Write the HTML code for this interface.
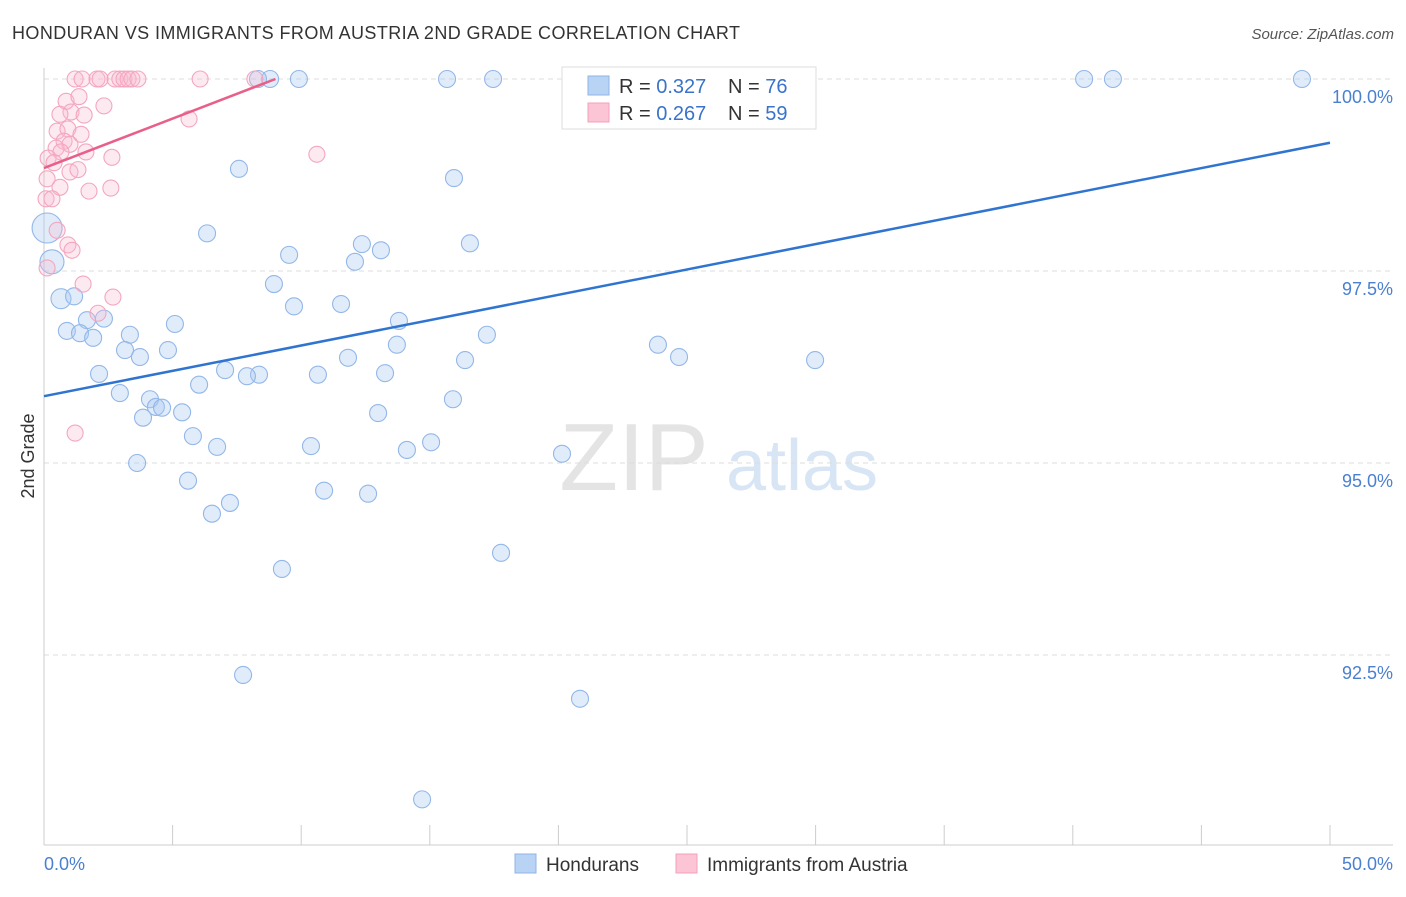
<!DOCTYPE html>
<html><head><meta charset="utf-8"><style>
body{margin:0;background:#fff;font-family:"Liberation Sans",sans-serif;}
svg text{font-family:"Liberation Sans",sans-serif;}
</style></head><body>
<svg id="chart" width="1406" height="892" xmlns="http://www.w3.org/2000/svg">
<text x="12" y="39" font-size="18" fill="#333" textLength="728">HONDURAN VS IMMIGRANTS FROM AUSTRIA 2ND GRADE CORRELATION CHART</text>
<text x="1394" y="39" font-size="15" fill="#555" text-anchor="end" font-style="italic">Source: ZipAtlas.com</text>
<g>
<text x="634" y="490" font-size="96" fill="#e4e4e4" text-anchor="middle" font-family="Liberation Serif">ZIP</text>
<text x="802" y="490" font-size="72" fill="#d7e5f5" text-anchor="middle">atlas</text>
</g>
<g id="grid"></g>
<g id="axes"></g>
<g id="pts"></g>
<g id="lines"></g>
<text transform="translate(34,456) rotate(-90)" font-size="18" fill="#333" text-anchor="middle">2nd Grade</text>
<g>
<rect x="562" y="67" width="254" height="62" fill="#fff" stroke="#ddd"/>
<rect x="588" y="76" width="21" height="19" fill="#b9d3f5" stroke="#8fb4e8"/>
<rect x="588" y="103" width="21" height="19" fill="#fcc5d5" stroke="#f3a0ba"/>
<text x="619" y="93" font-size="20" fill="#333">R = <tspan fill="#3a73c9">0.327</tspan></text>
<text x="728" y="93" font-size="20" fill="#333">N = <tspan fill="#3a73c9">76</tspan></text>
<text x="619" y="120" font-size="20" fill="#333">R = <tspan fill="#3a73c9">0.267</tspan></text>
<text x="728" y="120" font-size="20" fill="#333">N = <tspan fill="#3a73c9">59</tspan></text>
</g>
<g>
<rect x="515" y="854" width="21" height="19" fill="#b9d3f5" stroke="#8fb4e8"/>
<text x="546" y="871" font-size="19" fill="#333">Hondurans</text>
<rect x="676" y="854" width="21" height="19" fill="#fcc5d5" stroke="#f3a0ba"/>
<text x="707" y="871" font-size="19" fill="#333">Immigrants from Austria</text>
</g>
</svg>
<script>
const blueX=[8.79,9.91,15.67,17.46,40.44,41.56,48.91,25.0,28.42,8.32,7.58,15.94,6.34,0.12,0.31,9.53,12.36,16.56,13.10,12.09,8.94,0.66,1.17,9.72,11.55,1.67,2.33,5.09,13.80,0.89,1.40,1.91,3.34,17.22,3.15,4.82,13.72,23.87,3.73,24.69,29.98,11.82,16.37,2.14,7.04,8.36,7.89,10.65,13.26,6.03,2.95,4.12,15.90,4.35,4.59,5.37,3.85,12.99,5.79,15.05,6.73,10.38,14.11,20.14,3.62,5.60,10.89,12.60,7.23,6.53,17.77,9.25,7.74,20.84,14.70];
const blueY=[100,100,100,100,100,100,100,100,100,100,98.83,98.71,97.99,98.06,97.62,97.71,97.85,97.86,97.77,97.62,97.33,97.14,97.17,97.04,97.07,96.86,96.88,96.81,96.85,96.72,96.69,96.63,96.67,96.67,96.47,96.47,96.54,96.54,96.38,96.38,96.34,96.37,96.34,96.16,96.21,96.15,96.13,96.15,96.17,96.02,95.91,95.83,95.83,95.73,95.72,95.66,95.59,95.65,95.35,95.27,95.21,95.22,95.17,95.12,95.0,94.77,94.64,94.60,94.48,94.34,93.83,93.62,92.24,91.93,90.62];
const pinkX=[1.21,1.48,2.06,2.18,2.76,2.95,3.11,3.27,3.42,3.65,6.07,8.2,0.86,1.36,2.33,1.05,0.62,1.56,5.64,0.51,0.93,1.44,0.78,1.01,0.47,0.66,0.16,0.39,1.63,2.64,10.61,1.01,1.32,0.12,1.75,2.60,0.62,0.08,0.31,0.51,0.93,1.09,0.12,1.52,2.68,2.10,1.21];
const pinkY=[100,100,100,100,100,100,100,100,100,100,100,100,99.71,99.77,99.65,99.57,99.54,99.53,99.48,99.32,99.35,99.28,99.19,99.15,99.10,99.05,98.97,98.91,99.05,98.98,99.02,98.79,98.82,98.70,98.54,98.58,98.59,98.44,98.44,98.03,97.84,97.77,97.54,97.33,97.16,96.95,95.39];
const blueTrend=[[0,95.87],[50,99.17]];
const pinkTrend=[[0,98.84],[9,100]];
const yTicks=[100,97.5,95,92.5];
const yTickLabels=["100.0%","97.5%","95.0%","92.5%"];
const xTicks=[0,5,10,15,20,25,30,35,40,45,50];
const NS="http://www.w3.org/2000/svg";
const sx=v=>44+v*25.72;
const sy=v=>79+(100-v)*76.8;
function mk(tag,attrs,parent){const e=document.createElementNS(NS,tag);for(const k in attrs)e.setAttribute(k,attrs[k]);document.getElementById(parent).appendChild(e);return e;}
yTicks.forEach((t,i)=>{
 const l=mk('line',{x1:44,x2:1393,y1:sy(t),y2:sy(t),stroke:'#ddd','stroke-dasharray':'5,4'},'grid');
 
 
 const tx=mk('text',{x:1393,y:sy(t)+24,'font-size':18,fill:'#4a80d0','text-anchor':'end'},'grid');
 tx.textContent=yTickLabels[i];
 
 
});
const ax=mk('line',{x1:44,x2:44,y1:68,y2:845,stroke:'#ccc'},'axes');


const bx=mk('line',{x1:44,x2:1393,y1:845,y2:845,stroke:'#ccc'},'axes');


xTicks.forEach(t=>{
 const l=mk('line',{x1:sx(t),x2:sx(t),y1:825,y2:845,stroke:'#ccc'},'axes');
 
 
});
[[0,"0.0%","start"],[50,"50.0%","end"]].forEach(a=>{
 const tx=mk('text',{x:a[0]==0?44:1393,y:870,'font-size':18,fill:'#4a80d0','text-anchor':a[2]},'axes');
 tx.textContent=a[1];
 
 
});
blueX.forEach((x,i)=>{
 let r=8.5; if(i==13)r=15; if(i==14)r=12; if(i==21)r=10;
 const c=mk('circle',{cx:sx(x),cy:sy(blueY[i]),r:r,fill:'rgba(170,200,240,0.35)',stroke:'#93b7e8','stroke-width':1.1},'pts');
 
 
});
pinkX.forEach((x,i)=>{
 const c=mk('circle',{cx:sx(x),cy:sy(pinkY[i]),r:8,fill:'rgba(250,185,208,0.3)',stroke:'#f4a6be','stroke-width':1.1},'pts');
 
 
});
const bl=mk('line',{x1:sx(blueTrend[0][0]),y1:sy(blueTrend[0][1]),x2:sx(blueTrend[1][0]),y2:sy(blueTrend[1][1]),stroke:'#2f74d0','stroke-width':2.5},'lines');


const pl=mk('line',{x1:sx(pinkTrend[0][0]),y1:sy(pinkTrend[0][1]),x2:sx(pinkTrend[1][0]),y2:sy(pinkTrend[1][1]),stroke:'#e8608a','stroke-width':2.5},'lines');


</script>
</body></html>
